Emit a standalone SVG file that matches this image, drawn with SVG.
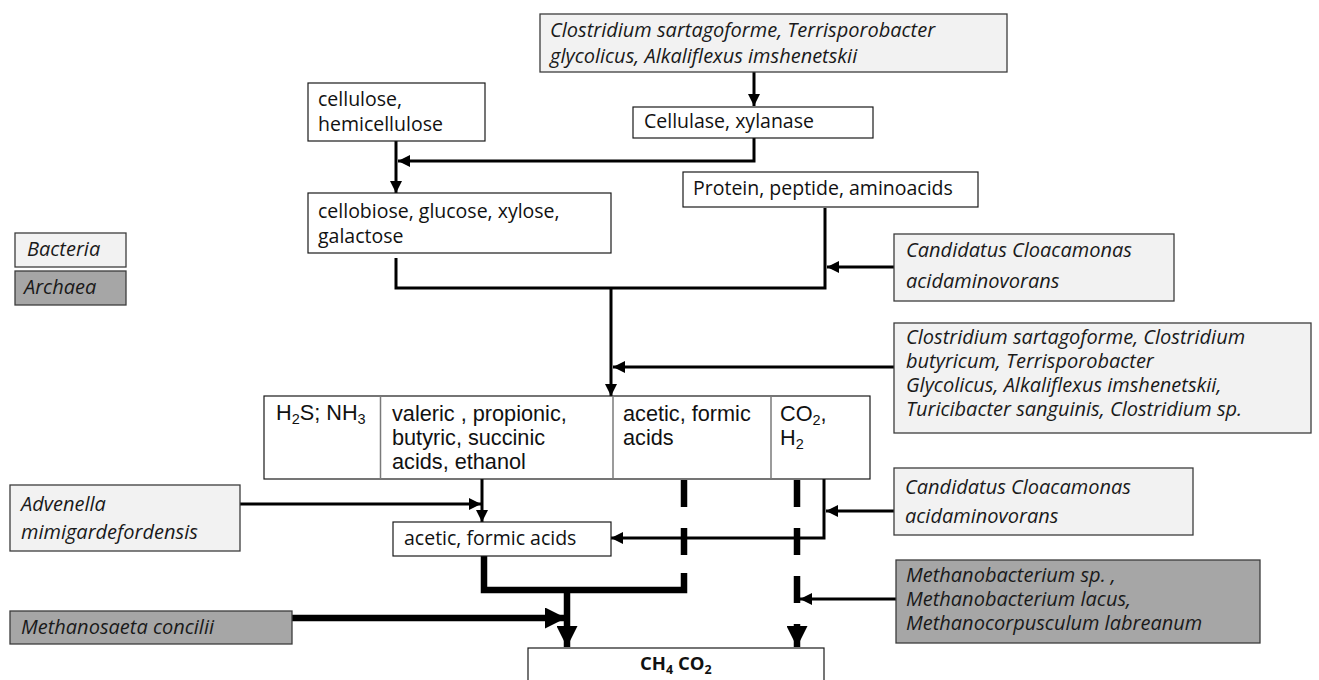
<svg xmlns="http://www.w3.org/2000/svg" width="1319" height="680" viewBox="0 0 1319 680">
<defs>
<style>
.bw{fill:#fff;stroke:#1a1a1a;stroke-width:1.2}
.bl{fill:#f2f2f2;stroke:#3c3c3c;stroke-width:1.3}
.bd{fill:#a6a6a6;stroke:#3c3c3c;stroke-width:1.3}
.t{font-family:"Open Sans","Noto Sans",sans-serif;font-size:19.5px;fill:#111}
.ti{font-family:"Open Sans","Noto Sans",sans-serif;font-size:20px;font-style:italic;fill:#1a1a1a}
.ta{font-family:"Liberation Sans",Arial,sans-serif;font-size:21.7px;fill:#111}
.tb{font-family:"Open Sans","Noto Sans",sans-serif;font-size:18.5px;font-weight:bold;fill:#111}
.c{fill:none;stroke:#000;stroke-width:3}
.ck{fill:none;stroke:#000;stroke-width:6.5}
.cd{fill:none;stroke:#000;stroke-width:6.5;stroke-dasharray:27 21}
.dv{stroke:#7a7a7a;stroke-width:1.5}
</style>
<marker id="a" markerUnits="userSpaceOnUse" markerWidth="12" markerHeight="12" refX="12" refY="6" orient="auto"><path d="M0,0L12,6L0,12z" fill="#000"/></marker>
<marker id="ab" markerUnits="userSpaceOnUse" markerWidth="21" markerHeight="21" refX="21" refY="10.5" orient="auto"><path d="M0,0L21,10.5L0,21z" fill="#000"/></marker>
</defs>
<rect width="1319" height="680" fill="#fff"/>

<g id="connectors">
<line class="c" x1="754" y1="72" x2="754" y2="106" marker-end="url(#a)"/>
<polyline class="c" points="754,138 754,161 398,161" marker-end="url(#a)"/>
<line class="c" x1="396" y1="141" x2="396" y2="193" marker-end="url(#a)"/>
<polyline class="c" points="396,258 396,288 825,288 825,208"/>
<line class="c" x1="894" y1="267" x2="827" y2="267" marker-end="url(#a)"/>
<line class="c" x1="611" y1="288" x2="611" y2="396" marker-end="url(#a)"/>
<line class="c" x1="894" y1="367" x2="613" y2="367" marker-end="url(#a)"/>
<line class="c" x1="240" y1="504" x2="481" y2="504" marker-end="url(#a)"/>
<line class="c" x1="482" y1="479" x2="482" y2="522" marker-end="url(#a)"/>
<line class="c" x1="894" y1="511" x2="826" y2="511" marker-end="url(#a)"/>
<polyline class="c" points="824,479 824,538 611,538" marker-end="url(#a)"/>
<line class="cd" x1="684" y1="480" x2="684" y2="575"/>
<polyline class="ck" points="484,556 484,590 684,590 684,573"/>
<line class="ck" x1="567" y1="590" x2="567" y2="647" marker-end="url(#ab)"/>
<line class="ck" x1="292" y1="618" x2="566" y2="618" marker-end="url(#ab)"/>
<line class="cd" x1="797" y1="480" x2="797" y2="647" marker-end="url(#ab)"/>
<line class="c" x1="896" y1="599" x2="800" y2="599" marker-end="url(#a)"/>
</g>

<g id="n-top">
<rect class="bl" x="540" y="14" width="467" height="58"/>
<text class="ti" x="550" y="37">Clostridium sartagoforme, Terrisporobacter</text>
<text class="ti" x="550" y="63">glycolicus, Alkaliflexus imshenetskii</text>
</g>
<g id="n-cellulase">
<rect class="bw" x="633" y="107" width="240" height="31"/>
<text class="t" x="644" y="128">Cellulase, xylanase</text>
</g>
<g id="n-cellulose">
<rect class="bw" x="308" y="83" width="177" height="58"/>
<text class="t" x="318" y="106">cellulose,</text>
<text class="t" x="318" y="131">hemicellulose</text>
</g>
<g id="n-cellobiose">
<rect class="bw" x="308" y="193" width="303" height="60"/>
<text class="t" x="318" y="218">cellobiose, glucose, xylose,</text>
<text class="t" x="318" y="243">galactose</text>
</g>
<g id="n-protein">
<rect class="bw" x="683" y="172" width="295" height="35"/>
<text class="t" x="693" y="195">Protein, peptide, aminoacids</text>
</g>
<g id="legend-bacteria">
<rect class="bl" x="15" y="233" width="111" height="34"/>
<text class="ti" x="27" y="256">Bacteria</text>
</g>
<g id="legend-archaea">
<rect class="bd" x="15" y="271" width="111" height="34"/>
<text class="ti" x="24" y="294">Archaea</text>
</g>
<g id="n-candidatus1">
<rect class="bl" x="894" y="234" width="280" height="67"/>
<text class="ti" x="906" y="257">Candidatus Cloacamonas</text>
<text class="ti" x="906" y="288">acidaminovorans</text>
</g>
<g id="n-clostridium2">
<rect class="bl" x="894" y="323" width="417" height="110"/>
<text class="ti" x="906" y="344">Clostridium sartagoforme, Clostridium</text>
<text class="ti" x="906" y="368">butyricum, Terrisporobacter</text>
<text class="ti" x="906" y="392">Glycolicus, Alkaliflexus imshenetskii,</text>
<text class="ti" x="906" y="416">Turicibacter sanguinis, Clostridium sp.</text>
</g>
<g id="n-table">
<rect x="264" y="396" width="606" height="83" fill="#fff" stroke="#1a1a1a" stroke-width="1.2"/>
<line class="dv" x1="380.5" y1="396" x2="380.5" y2="479"/>
<line class="dv" x1="613" y1="396" x2="613" y2="479"/>
<line class="dv" x1="771" y1="396" x2="771" y2="479"/>
<text class="ta" x="276" y="420">H<tspan font-size="14.5" dy="4">2</tspan><tspan dy="-4">S; NH</tspan><tspan font-size="14.5" dy="4">3</tspan></text>
<text class="ta" x="392" y="421">valeric , propionic,</text>
<text class="ta" x="392" y="445">butyric, succinic</text>
<text class="ta" x="392" y="469">acids, ethanol</text>
<text class="ta" x="623" y="421">acetic, formic</text>
<text class="ta" x="623" y="445">acids</text>
<text class="ta" x="780" y="421">CO<tspan font-size="14.5" dy="4">2</tspan><tspan dy="-4">,</tspan></text>
<text class="ta" x="780" y="445">H<tspan font-size="14.5" dy="4">2</tspan></text>
</g>
<g id="n-advenella">
<rect class="bl" x="10" y="485" width="230" height="66"/>
<text class="ti" x="21" y="511">Advenella</text>
<text class="ti" x="21" y="539">mimigardefordensis</text>
</g>
<g id="n-acetic">
<rect class="bw" x="393" y="522" width="218" height="34"/>
<text class="t" x="404" y="545">acetic, formic acids</text>
</g>
<g id="n-candidatus2">
<rect class="bl" x="894" y="468" width="299" height="67"/>
<text class="ti" x="905" y="494">Candidatus Cloacamonas</text>
<text class="ti" x="905" y="523">acidaminovorans</text>
</g>
<g id="n-methanosaeta">
<rect class="bd" x="10" y="611" width="282" height="33"/>
<text class="ti" x="21" y="634">Methanosaeta concilii</text>
</g>
<g id="n-methanobacterium">
<rect class="bd" x="896" y="560" width="364" height="83"/>
<text class="ti" x="906" y="582">Methanobacterium sp. ,</text>
<text class="ti" x="906" y="606">Methanobacterium lacus,</text>
<text class="ti" x="906" y="630">Methanocorpusculum labreanum</text>
</g>
<g id="n-ch4">
<rect class="bw" x="528" y="648" width="296" height="44"/>
<text class="tb" x="640" y="670">CH<tspan font-size="12.5" dy="4">4</tspan><tspan dy="-4"> CO</tspan><tspan font-size="12.5" dy="4">2</tspan></text>
</g>
</svg>
